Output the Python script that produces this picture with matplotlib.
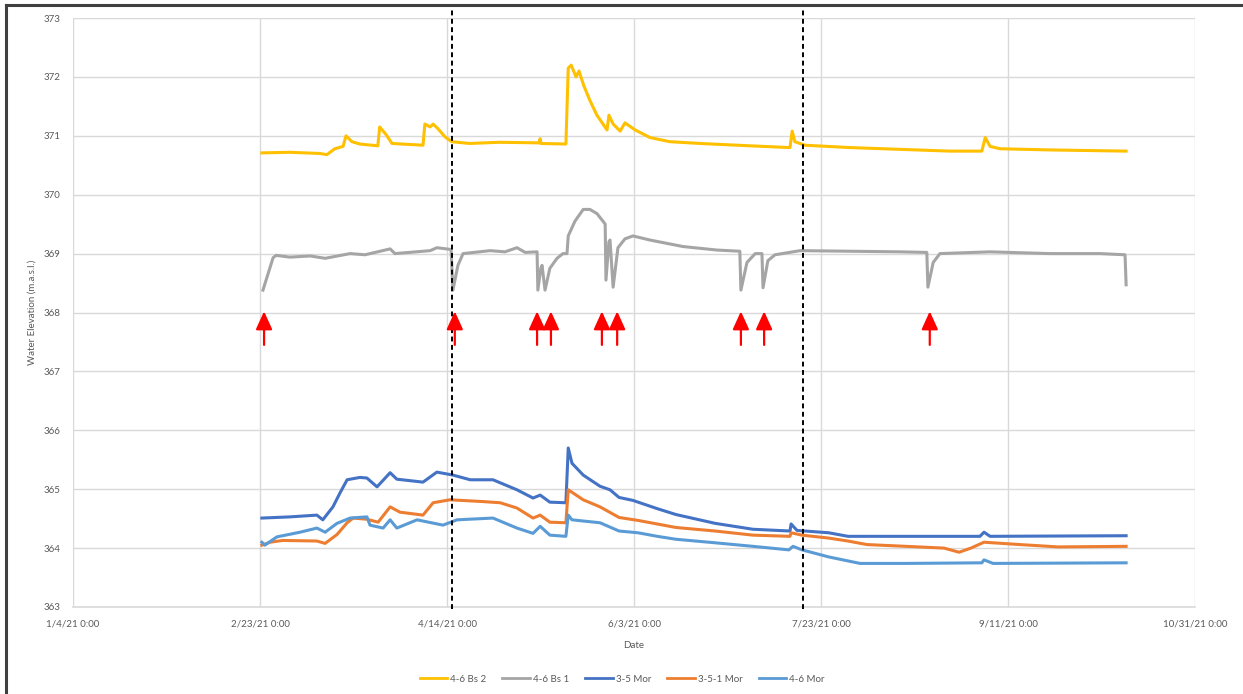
import matplotlib
matplotlib.use("Agg")
import matplotlib.pyplot as plt
import matplotlib.dates as mdates
from matplotlib.lines import Line2D
import pandas as pd
import numpy as np

# ---------------- data ----------------
bs2_dates = ["2021-02-23 12:00", "2021-03-03", "2021-03-11", "2021-03-12 21:00", "2021-03-15",
             "2021-03-17 05:00", "2021-03-18", "2021-03-19 14:00", "2021-03-21 17:00", "2021-03-26 12:00",
             "2021-03-27", "2021-03-28 17:00", "2021-03-30 07:00", "2021-04-07 14:00", "2021-04-08 02:00",
             "2021-04-09 12:00", "2021-04-10 07:00", "2021-04-11 14:00", "2021-04-13 12:00", "2021-04-15 07:00",
             "2021-04-20", "2021-04-28", "2021-05-08 14:00", "2021-05-08 22:00", "2021-05-09 02:00",
             "2021-05-15 19:00", "2021-05-16 10:00", "2021-05-17 05:00", "2021-05-18 12:00", "2021-05-19 07:00",
             "2021-05-20 14:00", "2021-05-22 05:00", "2021-05-24 02:00", "2021-05-26 19:00", "2021-05-27 07:00",
             "2021-05-28 10:00", "2021-05-30 07:00", "2021-05-31 14:00", "2021-06-03 07:00", "2021-06-07 07:00",
             "2021-06-12 14:00", "2021-06-20 14:00", "2021-07-04", "2021-07-14 17:00", "2021-07-15 07:00",
             "2021-07-16", "2021-07-18 17:00", "2021-07-30 19:00", "2021-08-13 02:00", "2021-08-26 12:00",
             "2021-09-04", "2021-09-04 22:00", "2021-09-06 05:00", "2021-09-08 22:00", "2021-09-22 05:00",
             "2021-10-12 14:00"]
bs2_values = [370.71, 370.72, 370.70, 370.68, 370.78,
              370.82, 371.00, 370.90, 370.86, 370.83,
              371.15, 371.02, 370.87, 370.84, 371.20,
              371.15, 371.20, 371.12, 370.98, 370.90,
              370.87, 370.89, 370.88, 370.95, 370.87,
              370.86, 372.15, 372.20, 372.00, 372.10,
              371.85, 371.60, 371.35, 371.10, 371.35,
              371.20, 371.08, 371.22, 371.10, 370.97,
              370.90, 370.87, 370.83, 370.80, 371.08,
              370.90, 370.84, 370.80, 370.77, 370.74,
              370.74, 370.97, 370.82, 370.78, 370.76,
              370.74]

bs1_dates = ["2021-02-23 19:00", "2021-02-26 12:00", "2021-02-27 07:00", "2021-03-03", "2021-03-08 10:00",
             "2021-03-12 10:00", "2021-03-19 02:00", "2021-03-23 02:00", "2021-03-29 19:00", "2021-03-31 02:00",
             "2021-04-09 12:00", "2021-04-11 07:00", "2021-04-15 02:00", "2021-04-15 14:00", "2021-04-16 22:00",
             "2021-04-18 07:00", "2021-04-25 12:00", "2021-04-29 12:00", "2021-05-02 17:00", "2021-05-04 22:00",
             "2021-05-08 02:00", "2021-05-08 07:00", "2021-05-09 02:00", "2021-05-09 10:00", "2021-05-10 05:00",
             "2021-05-11 12:00", "2021-05-13 10:00", "2021-05-15", "2021-05-16 02:00", "2021-05-16 10:00",
             "2021-05-18 05:00", "2021-05-20 10:00", "2021-05-22 05:00", "2021-05-24 02:00", "2021-05-25 17:00",
             "2021-05-26 07:00", "2021-05-26 12:00", "2021-05-27 07:00", "2021-05-27 14:00", "2021-05-28 10:00",
             "2021-05-29 17:00", "2021-05-31 14:00", "2021-06-02 17:00", "2021-06-07 07:00", "2021-06-16 02:00",
             "2021-06-25 05:00", "2021-07-01 07:00", "2021-07-01 14:00", "2021-07-03 05:00", "2021-07-05 10:00",
             "2021-07-07 05:00", "2021-07-07 12:00", "2021-07-08 19:00", "2021-07-10 17:00", "2021-07-17 10:00",
             "2021-07-30 19:00", "2021-08-13 02:00", "2021-08-20 07:00", "2021-08-20 14:00", "2021-08-22",
             "2021-08-23 19:00", "2021-09-06 05:00", "2021-09-22 05:00", "2021-10-05 14:00", "2021-10-12 07:00",
             "2021-10-12 14:00"]
bs1_values = [368.38, 368.93, 368.97, 368.94, 368.96,
              368.92, 369.00, 368.98, 369.08, 369.00,
              369.05, 369.10, 369.07, 368.38, 368.80,
              369.00, 369.05, 369.03, 369.10, 369.02,
              369.03, 368.38, 368.75, 368.80, 368.38,
              368.75, 368.92, 369.00, 369.00, 369.30,
              369.55, 369.75, 369.75, 369.68, 369.55,
              369.50, 368.55, 369.20, 369.23, 368.43,
              369.10, 369.25, 369.30, 369.23, 369.12,
              369.06, 369.04, 368.38, 368.85, 369.00,
              369.00, 368.42, 368.88, 368.98, 369.05,
              369.04, 369.03, 369.02, 368.43, 368.85,
              369.00, 369.03, 369.00, 369.00, 368.98,
              368.47]

m35_dates = ["2021-02-23 12:00", "2021-03-03", "2021-03-10 05:00", "2021-03-11 19:00", "2021-03-14 12:00",
             "2021-03-16 10:00", "2021-03-18 07:00", "2021-03-21 17:00", "2021-03-23 14:00", "2021-03-26 07:00",
             "2021-03-29 19:00", "2021-03-31 14:00", "2021-04-07 14:00", "2021-04-11 07:00", "2021-04-15 14:00",
             "2021-04-20 05:00", "2021-04-26 07:00", "2021-05-02 17:00", "2021-05-07", "2021-05-08 22:00",
             "2021-05-11 12:00", "2021-05-15 19:00", "2021-05-16 10:00", "2021-05-17 10:00", "2021-05-20 10:00",
             "2021-05-24 22:00", "2021-05-27 14:00", "2021-05-30", "2021-06-02 17:00", "2021-06-09 05:00",
             "2021-06-14 05:00", "2021-06-24 17:00", "2021-07-04 19:00", "2021-07-14 17:00", "2021-07-15",
             "2021-07-16 14:00", "2021-07-25 02:00", "2021-07-30 05:00", "2021-09-03 12:00", "2021-09-04 14:00",
             "2021-09-06 05:00", "2021-10-12 14:00"]
m35_values = [364.51, 364.53, 364.56, 364.48, 364.70,
              364.94, 365.16, 365.20, 365.19, 365.04,
              365.28, 365.17, 365.12, 365.29, 365.24,
              365.16, 365.16, 364.99, 364.85, 364.90,
              364.78, 364.77, 365.70, 365.44, 365.24,
              365.05, 364.99, 364.86, 364.81, 364.67,
              364.57, 364.42, 364.32, 364.29, 364.41,
              364.30, 364.26, 364.20, 364.20, 364.27,
              364.20, 364.21]

m351_dates = ["2021-02-23 12:00", "2021-02-25 17:00", "2021-03-01 02:00", "2021-03-10 05:00", "2021-03-12 10:00",
              "2021-03-15 14:00", "2021-03-18 07:00", "2021-03-19 22:00", "2021-03-23 14:00", "2021-03-26 14:00",
              "2021-03-29 19:00", "2021-04-01 10:00", "2021-04-07 14:00", "2021-04-10 07:00", "2021-04-14 19:00",
              "2021-04-23 14:00", "2021-04-28 05:00", "2021-05-02 17:00", "2021-05-07", "2021-05-08 22:00",
              "2021-05-11 12:00", "2021-05-15 19:00", "2021-05-16 10:00", "2021-05-20 10:00", "2021-05-24 22:00",
              "2021-05-30", "2021-06-04 02:00", "2021-06-14 05:00", "2021-06-24 17:00", "2021-07-04 19:00",
              "2021-07-14 17:00", "2021-07-15", "2021-07-17 22:00", "2021-07-25 02:00", "2021-07-30 05:00",
              "2021-08-04 07:00", "2021-08-14 17:00", "2021-08-24 22:00", "2021-08-28 22:00", "2021-09-01 02:00",
              "2021-09-04 14:00", "2021-09-14 05:00", "2021-09-24 10:00", "2021-10-12 14:00"]
m351_values = [364.05, 364.10, 364.13, 364.12, 364.08,
               364.23, 364.43, 364.51, 364.49, 364.44,
               364.70, 364.61, 364.56, 364.77, 364.82,
               364.79, 364.77, 364.68, 364.51, 364.56,
               364.44, 364.43, 364.99, 364.82, 364.70,
               364.52, 364.47, 364.35, 364.29, 364.22,
               364.20, 364.26, 364.22, 364.17, 364.12,
               364.06, 364.03, 364.00, 363.93, 364.00,
               364.10, 364.06, 364.02, 364.03]

m46_dates = ["2021-02-23 12:00", "2021-02-24 07:00", "2021-02-27 12:00", "2021-03-05 17:00", "2021-03-10 05:00",
             "2021-03-12 10:00", "2021-03-15 14:00", "2021-03-19 02:00", "2021-03-23 14:00", "2021-03-24 10:00",
             "2021-03-27 22:00", "2021-03-29 19:00", "2021-03-31 14:00", "2021-04-06", "2021-04-12 22:00",
             "2021-04-16 17:00", "2021-04-26 07:00", "2021-05-02 17:00", "2021-05-07", "2021-05-08 22:00",
             "2021-05-11 12:00", "2021-05-15 19:00", "2021-05-16 10:00", "2021-05-17 10:00", "2021-05-24 22:00",
             "2021-05-30", "2021-06-04 02:00", "2021-06-09 05:00", "2021-06-14 05:00", "2021-06-24 17:00",
             "2021-07-04 19:00", "2021-07-14 10:00", "2021-07-15 12:00", "2021-07-17 22:00", "2021-07-25 02:00",
             "2021-08-02 10:00", "2021-08-14 17:00", "2021-09-04", "2021-09-04 14:00", "2021-09-07",
             "2021-10-12 14:00"]
m46_values = [364.10, 364.05, 364.19, 364.27, 364.34,
              364.27, 364.42, 364.51, 364.53, 364.39,
              364.34, 364.48, 364.34, 364.48, 364.39,
              364.48, 364.51, 364.34, 364.25, 364.37,
              364.22, 364.20, 364.56, 364.48, 364.43,
              364.29, 364.26, 364.20, 364.15, 364.09,
              364.03, 363.97, 364.03, 363.97, 363.85,
              363.74, 363.74, 363.75, 363.80, 363.74,
              363.75]

series_names = ["4-6 Bs 2", "4-6 Bs 1", "3-5 Mor", "3-5-1 Mor", "4-6 Mor"]
series_colors = ["#FFC000", "#A5A5A5", "#4472C4", "#ED7D31", "#5B9BD5"]

event_dates = ["2021-02-24 02:00", "2021-04-16 02:00", "2021-05-08 02:00", "2021-05-11 19:00",
               "2021-05-25 10:00", "2021-05-29 12:00", "2021-07-01 14:00", "2021-07-07 19:00",
               "2021-08-21 02:00"]
arrow_tip = 368.02
arrow_tail = 367.45

dashed_dates = ["2021-04-15 07:00", "2021-07-18 05:00"]

x_tick_dates = ["2021-01-04", "2021-02-23", "2021-04-14", "2021-06-03", "2021-07-23", "2021-09-11", "2021-10-31"]
x_tick_labels = ["1/4/21 0:00", "2/23/21 0:00", "4/14/21 0:00", "6/3/21 0:00", "7/23/21 0:00",
                 "9/11/21 0:00", "10/31/21 0:00"]
y_ticks = [363, 364, 365, 366, 367, 368, 369, 370, 371, 372, 373]


def to_dt(lst):
    return pd.to_datetime(lst, format="mixed")


# ---------------- plot ----------------
plt.rcParams['font.family'] = ['Lato', 'DejaVu Sans']
txt = "#595959"
grid_c = "#D9D9D9"

fig = plt.figure(figsize=(12.43, 6.94), dpi=100)
ax = fig.add_axes([73 / 1243, 1 - 607 / 694, (1195 - 73) / 1243, (607 - 18) / 694])

all_dates = [bs2_dates, bs1_dates, m35_dates, m351_dates, m46_dates]
all_vals = [bs2_values, bs1_values, m35_values, m351_values, m46_values]
for d, v, name, c in zip(all_dates, all_vals, series_names, series_colors):
    ax.plot(to_dt(d), v, color=c, lw=2.2, label=name, solid_joinstyle='round')

for dd in dashed_dates:
    ax.axvline(pd.Timestamp(dd), ymin=-0.004, ymax=1.023, clip_on=False,
               color="black", lw=1.4, ls=(0, (2.5, 1.8)), zorder=5)

for ed in event_dates:
    t = pd.Timestamp(ed)
    ax.annotate("", xy=(t, arrow_tip), xytext=(t, arrow_tail),
                arrowprops=dict(arrowstyle="-|>,head_length=0.55,head_width=0.25",
                                color="#FF0000", lw=1.6, mutation_scale=20,
                                shrinkA=0, shrinkB=0), zorder=6)

ax.set_xlim(pd.Timestamp(x_tick_dates[0]), pd.Timestamp(x_tick_dates[-1]))
ax.set_ylim(y_ticks[0], y_ticks[-1])
ax.set_xticks(to_dt(x_tick_dates))
ax.set_xticklabels(x_tick_labels)
ax.set_yticks(y_ticks)
ax.tick_params(axis='both', length=0, labelsize=7, colors=txt)
ax.tick_params(axis='x', pad=9)
ax.tick_params(axis='y', pad=9)
ax.grid(True, color=grid_c, lw=1.0)
ax.set_axisbelow(True)
for s in ["top", "right", "left"]:
    ax.spines[s].set_visible(False)
ax.spines["bottom"].set_color(grid_c)
ax.spines["bottom"].set_linewidth(1.2)

ax.set_xlabel("Date", fontsize=7, color=txt, labelpad=9)
ax.set_ylabel("Water Elevation (m.a.s.l.)", fontsize=7, color=txt, labelpad=5)

handles = [Line2D([0], [0], color=c, lw=2) for c in series_colors]
fig.legend(handles, series_names, loc="center", bbox_to_anchor=(622 / 1243, 1 - 679 / 694),
           ncol=5, frameon=False, fontsize=7, handlelength=2.8, handletextpad=0.3,
           columnspacing=1.7, labelcolor=txt)

# figure border (top and left)
fig.add_artist(Line2D([6 / 1243, 1.0], [1 - 5 / 694, 1 - 5 / 694], transform=fig.transFigure,
                      color="#404040", lw=2.2))
fig.add_artist(Line2D([6 / 1243, 6 / 1243], [0.0, 1 - 5 / 694], transform=fig.transFigure,
                      color="#404040", lw=2.2))

fig.savefig("out.png", dpi=100)
